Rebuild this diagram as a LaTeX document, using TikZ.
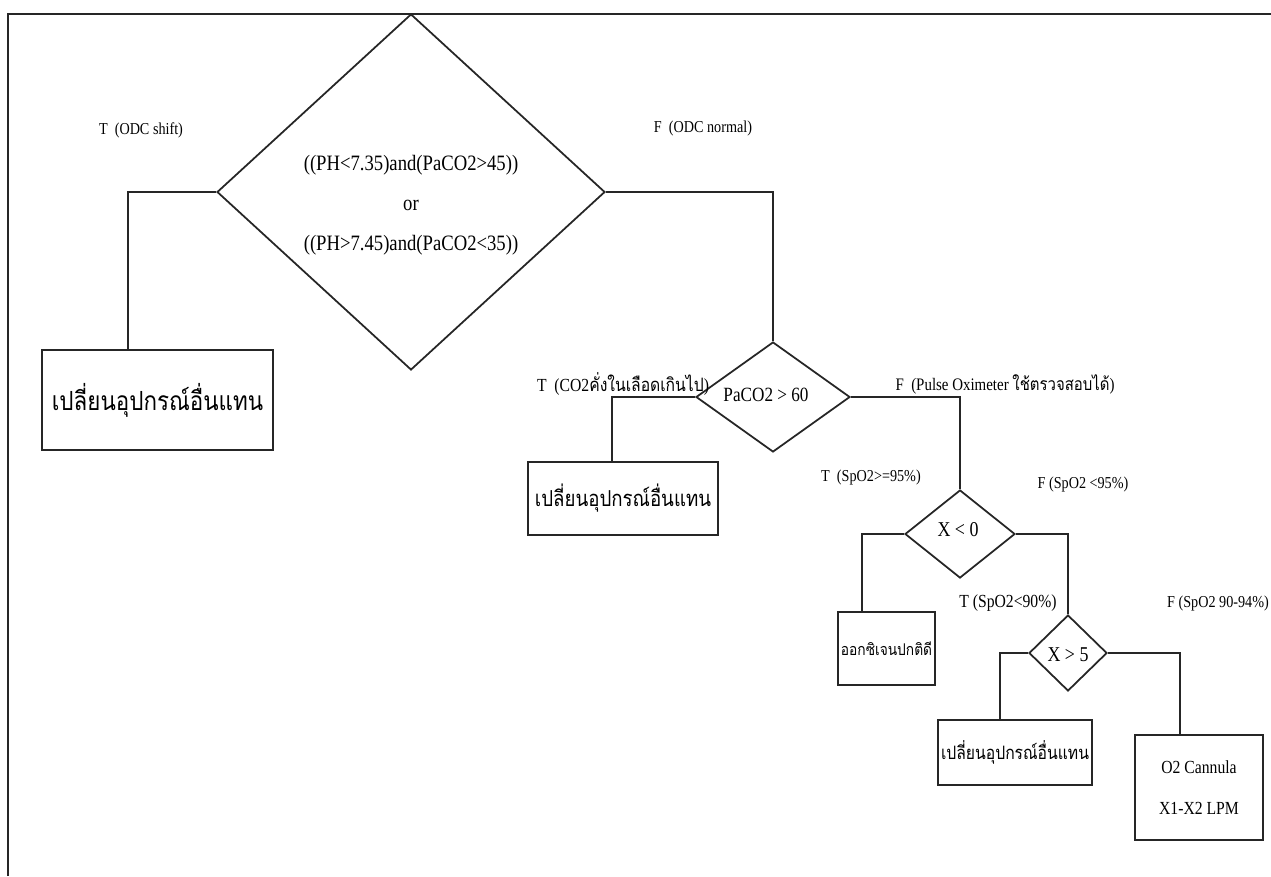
\documentclass[tikz,border=0pt]{standalone}
\usepackage{fontspec}
\setmainfont{Liberation Serif}
\newfontfamily\condf[FakeStretch=0.85]{Liberation Serif}
\newfontfamily\thaif[Script=Thai,FakeStretch=0.85]{Loma}
\usetikzlibrary{shapes.geometric}
\begin{document}
\begin{tikzpicture}[x=0.02cm,y=-0.02cm,
  ln/.style={draw=black!85, line width=1pt},
  dec/.style={diamond, ln, inner sep=0pt},
  leaf/.style={rectangle, ln, inner sep=0pt, align=center},
  lbl/.style={font=\condf\fontsize{9.5}{11}\selectfont, inner sep=0pt},
  conn/.style={ln}
]
\useasboundingbox (0,0) rectangle (1271,876);
\fill[white] (0,0) rectangle (1271,876);
% frame
\coordinate (fl) at (8,876);
\coordinate (ftl) at (8,14);
\coordinate (ftr) at (1271,14);
\draw[ln] (fl) -- (ftl) -- (ftr);

% decisions
\node[dec, minimum width=7.76cm, minimum height=7.12cm] (d1) at (411,192) {};
\node[align=center, font=\condf\fontsize{12.5}{22.7}\selectfont] (d1t) at (411,205)
  {((PH<7.35)and(PaCO2>45))\\or\\((PH>7.45)and(PaCO2<35))};
\node[dec, minimum width=3.08cm, minimum height=2.2cm] (d2) at (773,397) {};
\node[font=\condf\fontsize{11.5}{13}\selectfont] (d2t) at (766,395) {PaCO2 > 60};
\node[dec, minimum width=2.2cm, minimum height=1.76cm] (d3) at (960,534) {};
\node[font=\condf\fontsize{12}{14}\selectfont] (d3t) at (958,530) {X < 0};
\node[dec, minimum width=1.56cm, minimum height=1.52cm] (d4) at (1068,653) {};
\node[font=\condf\fontsize{12}{14}\selectfont] (d4t) at (1068,655) {X > 5};

% leaves
\node[leaf, minimum width=4.62cm, minimum height=2cm, font=\thaif\fontsize{15}{18}\selectfont] (b1) at (157.5,400) {เปลี่ยนอุปกรณ์อื่นแทน};
\node[leaf, minimum width=3.8cm, minimum height=1.46cm, font=\thaif\fontsize{12.5}{15}\selectfont] (b2) at (623,498.5) {เปลี่ยนอุปกรณ์อื่นแทน};
\node[leaf, minimum width=1.94cm, minimum height=1.46cm, font=\thaif\fontsize{9.2}{11}\selectfont] (b3) at (886.5,648.5) {ออกซิเจนปกติดี};
\node[leaf, minimum width=3.08cm, minimum height=1.3cm, font=\thaif\fontsize{10.5}{12}\selectfont] (b4) at (1015,752.5) {เปลี่ยนอุปกรณ์อื่นแทน};
\node[leaf, minimum width=2.56cm, minimum height=2.1cm, font=\condf\fontsize{10.5}{23}\selectfont] (b5) at (1199,787.5) {O2 Cannula\\X1-X2 LPM};

% connectors
\draw[conn] (d1.west) -| ([xshift=-0.59cm]b1.north);
\draw[conn] (d1.east) -| (d2.north);
\draw[conn] (d2.west) -| ([xshift=-0.22cm]b2.north);
\draw[conn] (d2.east) -| (d3.north);
\draw[conn] (d3.west) -| ([xshift=-0.49cm]b3.north);
\draw[conn] (d3.east) -| (d4.north);
\draw[conn] (d4.west) -| ([xshift=-0.3cm]b4.north);
\draw[conn] (d4.east) -| ([xshift=-0.38cm]b5.north);

% labels
\node[lbl] (l1) at (141,130) {T\ \ (ODC shift)};
\node[lbl] (l2) at (703,128) {F\ \ (ODC normal)};
\node[lbl, font=\condf\fontsize{10.5}{12}\selectfont] (l3) at (623,384) {T\ \ (CO2{\thaif คั่งในเลือดเกินไป})};
\node[lbl, font=\condf\fontsize{10}{12}\selectfont] (l4) at (1005,384) {F\ \ (Pulse Oximeter {\thaif ใช้ตรวจสอบได้})};
\node[lbl] (l5) at (871,477) {T\ \ (SpO2>=95\%)};
\node[lbl] (l6) at (1083,484) {F (SpO2 <95\%)};
\node[lbl, font=\condf\fontsize{10.5}{12}\selectfont] (l7) at (1008,603) {T (SpO2<90\%)};
\node[lbl] (l8) at (1218,603) {F (SpO2 90-94\%)};
\end{tikzpicture}
\end{document}
